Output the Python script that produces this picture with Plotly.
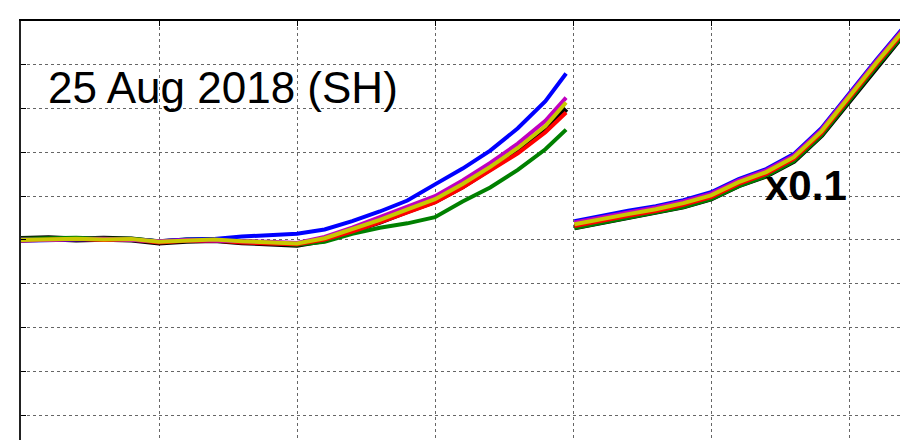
import plotly.graph_objects as go

# x positions (grid units) for the two segments
x_left = [0, 0.2, 0.4, 0.6, 0.8, 1.0, 1.2, 1.4, 1.6, 1.8, 2.0, 2.2, 2.4, 2.6, 2.8, 3.0, 3.2, 3.4, 3.6, 3.8, 3.95]
x_right = [4.01, 4.2, 4.4, 4.6, 4.8, 5.0, 5.2, 5.4, 5.6, 5.8, 6.0, 6.2, 6.41]

black_left = [5.02, 5.04, 5.01, 5.03, 5.01, 4.94, 4.98, 5.00, 4.95, 4.93, 4.89, 5.00, 5.20, 5.42, 5.66, 5.89, 6.23, 6.62, 7.03, 7.52, 8.00]
green_left = [5.03, 5.04, 5.05, 5.03, 5.03, 4.97, 5.01, 5.00, 4.96, 4.93, 4.89, 4.96, 5.14, 5.28, 5.38, 5.52, 5.88, 6.20, 6.60, 7.07, 7.52]
blue_left = [4.98, 5.00, 5.01, 5.02, 5.01, 4.97, 5.01, 5.02, 5.08, 5.10, 5.14, 5.24, 5.43, 5.65, 5.90, 6.27, 6.63, 7.04, 7.55, 8.17, 8.80]
red_left = [4.99, 5.01, 5.02, 5.00, 5.01, 4.94, 4.98, 4.99, 4.94, 4.92, 4.90, 5.01, 5.19, 5.40, 5.63, 5.86, 6.20, 6.58, 6.98, 7.46, 7.91]
magenta_left = [5.01, 5.00, 5.02, 5.03, 5.00, 4.97, 5.00, 4.99, 4.98, 4.96, 4.93, 5.07, 5.28, 5.51, 5.76, 6.00, 6.36, 6.76, 7.20, 7.72, 8.25]
yellow_left = [5.00, 5.02, 5.03, 5.01, 5.02, 4.96, 4.99, 5.01, 4.97, 4.95, 4.92, 5.04, 5.24, 5.46, 5.70, 5.93, 6.28, 6.67, 7.10, 7.60, 8.14]

black_right = [5.29, 5.41, 5.52, 5.63, 5.77, 5.95, 6.25, 6.47, 6.81, 7.40, 8.19, 8.97, 9.76]
green_right = [5.27, 5.39, 5.50, 5.62, 5.75, 5.93, 6.23, 6.46, 6.80, 7.39, 8.18, 8.96, 9.75]
blue_right = [5.43, 5.55, 5.67, 5.77, 5.91, 6.09, 6.39, 6.62, 6.96, 7.55, 8.34, 9.12, 9.91]
red_right = [5.32, 5.44, 5.55, 5.66, 5.80, 5.98, 6.28, 6.51, 6.85, 7.44, 8.23, 9.01, 9.80]
magenta_right = [5.40, 5.52, 5.63, 5.74, 5.88, 6.06, 6.36, 6.59, 6.93, 7.52, 8.31, 9.09, 9.88]
yellow_right = [5.36, 5.48, 5.59, 5.70, 5.84, 6.02, 6.32, 6.55, 6.89, 7.48, 8.27, 9.05, 9.84]

series = [
    ("black", black_left, black_right, 6),
    ("#008000", green_left, green_right, 4),
    ("#0000FF", blue_left, blue_right, 4),
    ("#FF0000", red_left, red_right, 4),
    ("#C000C0", magenta_left, magenta_right, 4),
    ("#C8C800", yellow_left, yellow_right, 4),
]

fig = go.Figure()
for color, yl, yr, w in series:
    fig.add_trace(go.Scatter(x=x_left, y=yl, mode="lines",
                             line=dict(color=color, width=w), showlegend=False))
    fig.add_trace(go.Scatter(x=x_right, y=yr, mode="lines",
                             line=dict(color=color, width=w), showlegend=False))

fig.add_annotation(x=0.18, y=8.48, xref="x", yref="y", text="25 Aug 2018 (SH)",
                   showarrow=False, xanchor="left", yanchor="middle",
                   font=dict(family="Liberation Sans", size=44, color="black"))
fig.add_annotation(x=5.38, y=6.25, xref="x", yref="y", text="<b>x0.1</b>",
                   showarrow=False, xanchor="left", yanchor="middle",
                   font=dict(family="Liberation Sans", size=42, color="black"))

fig.update_xaxes(range=[0, 884 / 138], dtick=1, tick0=0, showticklabels=False,
                 showgrid=True, gridcolor="#666666", griddash="dot", gridwidth=1,
                 zeroline=False, showline=True, linecolor="black", linewidth=2,
                 mirror="ticks", ticks="inside", ticklen=5, tickcolor="black", side="top")
fig.update_yaxes(range=[10 - 427 / 44, 10], dtick=1, tick0=0, showticklabels=False,
                 showgrid=True, gridcolor="#666666", griddash="dot", gridwidth=1,
                 zeroline=False, showline=True, linecolor="#222222", linewidth=2,
                 mirror="ticks", ticks="inside", ticklen=5, tickcolor="black")

# page body has an 8px margin, so the figure is placed at (8, 8); its bottom
# edge runs past the window so the lower axis is cropped like the reference
fig.update_layout(width=900, height=440, margin=dict(l=13, r=3, t=13, b=0),
                  plot_bgcolor="white", paper_bgcolor="white")

fig.write_html("out.html")
